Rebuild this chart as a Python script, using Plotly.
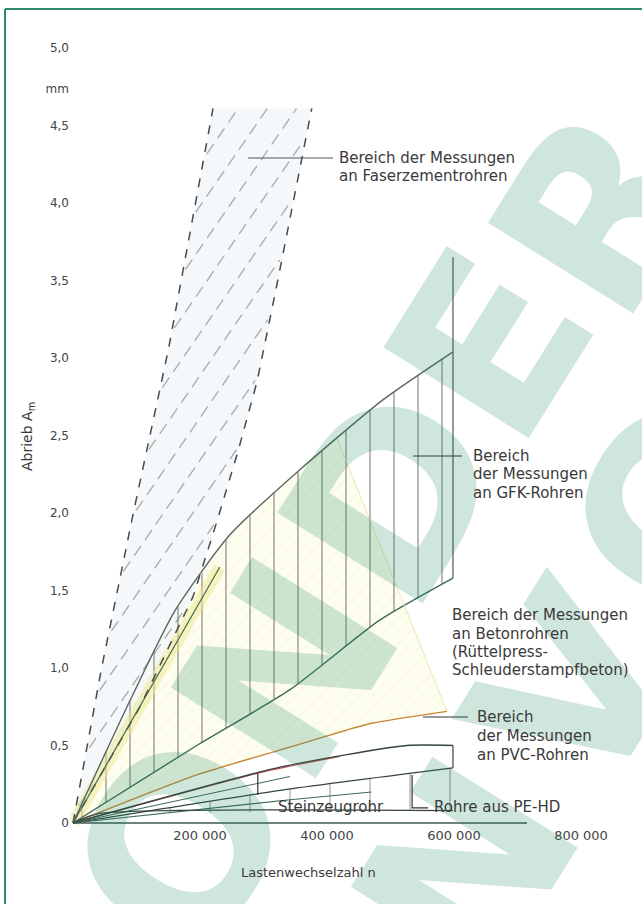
import numpy as np
import plotly.graph_objects as go

# ---------------- data ----------------
# Faserzementrohre: range of measurements (two dashed boundaries)
fz_left_n = [0, 45000, 95000, 150000, 220500]
fz_left_a = [0, 1.0, 2.0, 3.05, 4.61]
fz_right_n = [0, 105500, 189000, 227000, 260000, 290000, 320000, 376000]
fz_right_a = [0, 0.75, 1.46, 1.95, 2.40, 2.85, 3.45, 4.61]

# GFK-Rohre: upper / lower boundary
gfk_up_n = [0, 89800, 160600, 247000, 357500, 488000, 598400]
gfk_up_a = [0, 0.79, 1.37, 1.86, 2.28, 2.73, 3.04]
gfk_lo_n = [0, 195000, 341700, 483500, 598400]
gfk_lo_a = [0, 0.50, 0.86, 1.31, 1.58]
gfk_bar_top = 3.65

# Betonrohre
beton_top_n = [0, 231000]
beton_top_a = [0, 1.65]
beton_up_n = [0, 89800, 160600, 247000, 357500, 416000]
beton_up_a = [0, 0.79, 1.37, 1.86, 2.28, 2.48]
orange_n = [0, 195000, 341700, 431500, 472400, 589000]
orange_a = [0, 0.31, 0.49, 0.60, 0.645, 0.72]
red_n = [0, 300000, 420000]
red_a = [0, 0.33, 0.43]

# PVC-Rohre
pvc_up_n = [0, 326000, 526000, 598400]
pvc_up_a = [0, 0.36, 0.50, 0.50]
pvc_lo_n = [0, 326000, 598400]
pvc_lo_a = [0, 0.21, 0.355]

# Steinzeugrohr
stz_n = [0, 341700]
stz_a = [0, 0.30]
stz2_n = [0, 341700, 470000]
stz2_a = [0, 0.15, 0.20]
stz_bar_n = 291000
stz_bar_a = [0.18, 0.32]

# PE-HD
pe_lo_n = [0, 40000, 598400]
pe_lo_a = [0, 0.06, 0.08]
pe_bracket_n = [534000, 559000]
pe_bracket_a = [0.31, 0.097]

# axis ticks
x_tickvals = [200000, 400000, 600000, 800000]
x_ticktext = ["200 000", "400 000", "600 000", "800 000"]
y_tickvals = [0, 0.5, 1.0, 1.5, 2.0, 2.5, 3.0, 3.5, 4.0, 4.5, 4.74, 5.0]
y_ticktext = ["0", "0,5", "1,0", "1,5", "2,0", "2,5", "3,0", "3,5", "4,0", "4,5", "mm", "5,0"]

watermark_line1 = ["O", "N", "D", "E", "R"]
watermark_line2 = ["N", "V", "O"]

# ---------------- layout geometry ----------------
W, H = 642, 904
ML, MR, MT, MB = 70, 10, 30, 78
PW, PH = W - ML - MR, H - MT - MB
X0, XS = 73, 0.000635          # pixel of n=0 and px per cycle
Y0, YS = 823, 155              # pixel of A=0 and px per mm


def px2n(px):
    return (px - X0) / XS


def py2a(py):
    return (Y0 - py) / YS


def pxp(px):
    return (px - ML) / PW


def pyp(py):
    return (H - MB - py) / PH


FONT = "DejaVu Sans"
TXT = "#3a3a3a"

fig = go.Figure()

# Beton region (yellowish)
fig.add_trace(go.Scatter(
    x=beton_up_n + orange_n[::-1], y=beton_up_a + orange_a[::-1],
    fill="toself", mode="lines", line=dict(width=0),
    fillcolor="rgba(250,248,210,0.5)",
    fillpattern=dict(shape="/", size=9, solidity=0.2,
                     fgcolor="rgba(240,234,170,0.45)", bgcolor="rgba(252,250,222,0.45)"),
    hoverinfo="skip", showlegend=False))

# Faserzement region: light fill + dashed diagonal hatching clipped to the band
fig.add_trace(go.Scatter(
    x=fz_left_n + fz_right_n[::-1], y=fz_left_a + fz_right_a[::-1],
    fill="toself", mode="lines", line=dict(width=0),
    fillcolor="rgba(240,246,249,0.75)", hoverinfo="skip", showlegend=False))

a_grid = np.linspace(0, fz_left_a[-1], 600)
left_b = np.interp(a_grid, fz_left_a, fz_left_n)
right_b = np.interp(a_grid, fz_right_a, fz_right_n)
hx, hy = [], []
slope_n = 155 / 1.45 / XS   # cycles per mm along a hatch stroke (~55 deg)
for c in np.arange(-700000, 400000, 46000):
    n_line = c + a_grid * slope_n
    inside = (n_line > left_b + 3000) & (n_line < right_b - 3000)
    seg_x, seg_y = [], []
    for ok, nv, av in zip(inside, n_line, a_grid):
        if ok:
            seg_x.append(nv)
            seg_y.append(av)
        elif seg_x:
            hx += seg_x + [None]
            hy += seg_y + [None]
            seg_x, seg_y = [], []
    if seg_x:
        hx += seg_x + [None]
        hy += seg_y + [None]
fig.add_trace(go.Scatter(x=hx, y=hy, mode="lines",
                         line=dict(color="#a9a9a9", width=1.3, dash="12px,7px"),
                         hoverinfo="skip", showlegend=False))

# GFK region (vertical hatching)
fig.add_trace(go.Scatter(
    x=gfk_up_n + gfk_lo_n[::-1], y=gfk_up_a + gfk_lo_a[::-1],
    fill="toself", mode="lines", line=dict(width=0),
    fillpattern=dict(shape="|", size=24, solidity=0.07,
                     fgcolor="#5a5a5a", bgcolor="rgba(0,0,0,0)"),
    hoverinfo="skip", showlegend=False))

# PE-HD / Steinzeug lower region with faint vertical hatch
fig.add_trace(go.Scatter(
    x=pvc_lo_n + pe_lo_n[::-1], y=pvc_lo_a + pe_lo_a[::-1],
    fill="toself", mode="lines", line=dict(width=0),
    fillpattern=dict(shape="|", size=40, solidity=0.04,
                     fgcolor="#777", bgcolor="rgba(0,0,0,0)"),
    hoverinfo="skip", showlegend=False))

# red-tinted PVC band
fig.add_trace(go.Scatter(
    x=red_n + pvc_up_n[:2][::-1], y=red_a + pvc_up_a[:2][::-1],
    fill="toself", mode="lines", line=dict(width=0),
    fillcolor="rgba(245,205,215,0.45)", hoverinfo="skip", showlegend=False))

# yellow highlight band near origin
fig.add_trace(go.Scatter(x=beton_top_n, y=beton_top_a, mode="lines",
                         line=dict(color="rgba(238,232,140,0.5)", width=12),
                         hoverinfo="skip", showlegend=False))


def line(xs, ys, color, width=1.3, dash="solid", smooth=True):
    fig.add_trace(go.Scatter(x=xs, y=ys, mode="lines",
                             line=dict(color=color, width=width, dash=dash,
                                       shape="spline" if smooth else "linear", smoothing=0.6),
                             hoverinfo="skip", showlegend=False))


line(fz_left_n, fz_left_a, "#4a4a4a", 1.5, "dash", smooth=False)
line(fz_right_n, fz_right_a, "#4a4a4a", 1.5, "dash", smooth=False)
line(beton_top_n, beton_top_a, "#3f6a58", 1.2)
line(gfk_up_n, gfk_up_a, "#5c6660", 1.4)
line(gfk_lo_n, gfk_lo_a, "#3f6a58", 1.4)
line([gfk_lo_n[-1], gfk_lo_n[-1]], [gfk_lo_a[-1], gfk_bar_top], "#555", 1.2, smooth=False)
line([beton_up_n[-1], orange_n[-1]], [beton_up_a[-1], orange_a[-1]], "rgba(230,225,160,0.8)", 1.0)
line(orange_n, orange_a, "#c9873a", 1.4)
line(red_n, red_a, "#d0505a", 1.2)
line(pvc_up_n, pvc_up_a, "#34453d", 1.3)
line(pvc_lo_n, pvc_lo_a, "#34453d", 1.3)
line([pvc_lo_n[-1], pvc_lo_n[-1]], [pvc_lo_a[-1], pvc_up_a[-1]], "#34453d", 1.2, smooth=False)
line(stz_n, stz_a, "#3f6a58", 1.1)
line(stz2_n, stz2_a, "#3f6a58", 1.1)
line(pe_lo_n, pe_lo_a, "#34453d", 1.2)
line([stz_bar_n, stz_bar_n], stz_bar_a, "#333", 1.2, smooth=False)
line([pe_bracket_n[0], pe_bracket_n[0], pe_bracket_n[1]],
     [pe_bracket_a[0], pe_bracket_a[1], pe_bracket_a[1]], "#333", 1.2, smooth=False)
# x baseline
line([0, 715000], [0, 0], "#3f5a50", 1.3, smooth=False)

# leader lines
line([px2n(248), px2n(333)], [py2a(158), py2a(158)], "#555", 1.0, smooth=False)
line([px2n(413), px2n(462)], [py2a(456), py2a(456)], "#333", 1.0, smooth=False)
line([px2n(423), px2n(468)], [py2a(717), py2a(717)], "#333", 1.0, smooth=False)

annotations = []


def label(px, py, text, size=15, color=TXT, anchor="left"):
    annotations.append(dict(x=pxp(px), y=pyp(py), xref="paper", yref="paper",
                            text=text, showarrow=False, xanchor=anchor, yanchor="middle",
                            font=dict(family=FONT, size=size, color=color)))


# watermark (semi-transparent, rotated)
wm_pos1 = [(182, 845), (287, 670), (393, 496), (490, 345), (600, 212)]
wm_pos2 = [(468, 870), (575, 690), (680, 505)]
for ch, (px, py) in list(zip(watermark_line1, wm_pos1)) + list(zip(watermark_line2, wm_pos2)):
    annotations.append(dict(x=pxp(px), y=pyp(py), xref="paper", yref="paper", text="<b>%s</b>" % ch,
                            showarrow=False, xanchor="center", yanchor="middle", textangle=-58,
                            font=dict(family=FONT, size=235, color="rgba(15,130,85,0.2)")))

# text labels
label(337, 158, "Bereich der Messungen")
label(337, 176, "an Faserzementrohren")
label(471, 456, "Bereich")
label(471, 474, "der Messungen")
label(471, 493, "an GFK-Rohren")
label(450, 615, "Bereich der Messungen")
label(450, 634, "an Betonrohren")
label(450, 652, "(Rüttelpress-")
label(450, 670, "Schleuderstampfbeton)")
label(475, 717, "Bereich")
label(475, 736, "der Messungen")
label(475, 755, "an PVC-Rohren")
label(432, 807, "Rohre aus PE-HD")
label(276, 807, "Steinzeugrohr")
label(308, 872, "Lastenwechselzahl n", size=13, anchor="center")
annotations.append(dict(x=pxp(28), y=pyp(437), xref="paper", yref="paper",
                        text="Abrieb A<sub>m</sub>", showarrow=False, textangle=-90,
                        xanchor="center", yanchor="middle",
                        font=dict(family=FONT, size=14, color=TXT)))

shapes = [
    dict(type="line", xref="paper", yref="paper", x0=pxp(5), x1=pxp(5), y0=pyp(9), y1=pyp(904),
         line=dict(color="#2f8a68", width=2)),
    dict(type="line", xref="paper", yref="paper", x0=pxp(5), x1=pxp(642), y0=pyp(9), y1=pyp(9),
         line=dict(color="#2f8a68", width=2)),
]

fig.update_layout(
    width=W, height=H, margin=dict(l=ML, r=MR, t=MT, b=MB),
    paper_bgcolor="white", plot_bgcolor="rgba(0,0,0,0)",
    showlegend=False, annotations=annotations, shapes=shapes,
    xaxis=dict(range=[px2n(ML), px2n(W - MR)], showgrid=False, zeroline=False, showline=False,
               tickvals=x_tickvals, ticktext=x_ticktext, ticks="",
               tickfont=dict(family=FONT, size=13, color="#444"), fixedrange=True),
    yaxis=dict(range=[py2a(H - MB), py2a(MT)], showgrid=False, zeroline=False, showline=False,
               tickvals=y_tickvals, ticktext=y_ticktext, ticks="",
               tickfont=dict(family=FONT, size=12, color="#444"), fixedrange=True),
)

fig.write_html("out.html")
